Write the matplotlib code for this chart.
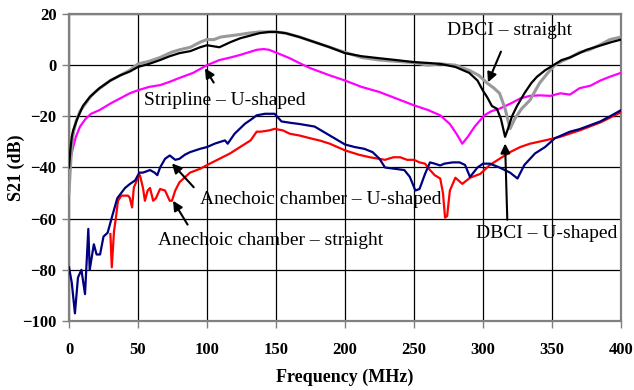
import matplotlib
matplotlib.use("Agg")
import matplotlib.pyplot as plt

# ---------------- data ----------------
f_dbci_straight = [0, 1, 2, 3, 5, 8, 12, 16, 20, 25, 30, 37, 44, 50, 58, 66, 74, 80, 88, 95, 100, 105, 110, 117,
                   124, 130, 138, 145, 150, 157, 167, 178, 189, 200, 212, 225, 237, 250, 260, 269, 280, 290, 297,
                   303, 308, 312, 316, 319.6, 323, 328, 334, 341, 347, 352, 357, 363, 370, 377, 385, 392, 400]
s_dbci_straight = [-50, -40, -32, -27, -22, -18, -15, -12, -10, -8, -6, -4, -2, 0.5, 1.5, 3, 5, 6, 7, 9, 10, 10, 11,
                   11.5, 12, 12.5, 13, 13, 13, 12.5, 11, 9, 7, 5, 3, 2, 1.5, 1, 0, 0.5, 0, -2, -4, -7, -9, -11, -17,
                   -24.8, -21, -17, -13.7, -7, -3, 0, 1.5, 3, 5, 6, 8, 10, 11]

f_dbci_u = [0, 1, 2, 3, 6, 10, 15, 22, 30, 37, 44, 50, 58, 66, 73, 80, 88, 95, 100, 109, 117, 124, 131, 138, 145,
            150, 157, 167, 178, 189, 200, 212, 225, 237, 250, 262, 269, 280, 290, 296, 300, 303, 306.5, 310, 313,
            316, 318, 321, 324.6, 330, 335, 339, 345, 351, 357, 363, 369, 375, 381, 387, 393, 400]
s_dbci_u = [-40, -33, -28, -25.5, -21, -16, -12.5, -9, -6, -4, -2.5, -0.7, 0.5, 2, 3.5, 4.7, 5.5, 7, 7.8, 7, 9,
            10.5, 11.5, 12.5, 13, 13, 12.5, 11, 9, 7, 4.7, 3.5, 2.7, 2, 1.2, 0.8, 0.5, -0.7, -3, -6, -10, -12.5,
            -16, -17, -21, -28, -25, -20, -16, -11, -7, -4.6, -2, 0, 2, 3, 4.5, 6, 7, 8, 9, 10]

f_stripline = [0, 1, 3, 5, 8, 12, 16, 22, 30, 37, 44, 50, 58, 66, 73, 80, 90, 100, 109, 117, 124, 130, 136, 141,
               145, 152, 160, 167, 175, 189, 200, 212, 225, 237, 250, 260, 269, 276, 281, 285, 289, 294, 301, 306,
               312, 320, 327, 334, 341, 349, 356, 363, 370, 378, 385, 392, 400]
s_stripline = [-42, -37, -32, -28, -24, -21, -19, -17.6, -15, -13, -11, -9.8, -8.5, -7.8, -6.5, -5, -3, 0, 2, 3,
               4, 5, 6, 6.3, 6, 4.5, 2.7, 0.8, -1.2, -4, -6, -8.5, -10.5, -13, -15.7, -17.5, -19.6, -23, -27,
               -30.7, -28, -24, -19.6, -18, -17, -15, -13, -12, -11.8, -12, -11, -11.5, -9, -8, -6, -4.5, -3]

f_anech_u = [0, 2, 4.3, 6.5, 9, 11.6, 14, 15, 18, 20, 22.5, 25, 28, 31, 35, 40.6, 44, 48, 51, 53.6, 58.7, 62, 64,
             66, 69.6, 73, 77, 80, 84, 87.7, 95, 100, 106, 113, 115, 120, 127.5, 132.6, 136, 142, 149, 154, 160,
             167, 178, 189, 200, 207, 214, 220, 225, 229, 236, 243, 247, 251, 254, 258, 261.6, 265, 269, 272, 278,
             283, 287, 290.6, 296, 300, 305, 312, 319.6, 325, 330, 337.7, 345, 352, 363, 370, 377.5, 385, 392, 400]
s_anech_u = [-79, -85, -97, -83, -80, -89.5, -64, -80, -70, -74, -74, -67, -65.5, -59.6, -52, -48, -46.5, -45, -42,
             -42, -41, -42, -43, -40, -36.6, -35.3, -37, -36.6, -35, -34, -32.7, -32, -30.6, -29.4, -30.7, -26.8,
             -22.9, -21, -19.6, -19, -19, -22, -22.5, -23, -24, -27.5, -31, -32, -32.7, -34, -36.6, -40, -40.5,
             -41, -43.7, -49, -48.4, -42.5, -38, -38.5, -39.2, -38.5, -38, -38, -39, -43.7, -40, -38.5, -38.5,
             -40, -42, -44.3, -39, -34.5, -32, -28.6, -26, -25, -23.5, -22, -20, -17.6]

f_anech_straight = [30, 31, 32.6, 34, 35.5, 38, 42.8, 44, 45.7, 47, 50, 51.4, 53.6, 55, 57, 58.7, 61, 63, 66, 69.6,
                    73, 74.6, 77, 80, 87.7, 95, 102, 109, 116.7, 124, 131.6, 136, 139, 145, 149, 155, 160, 167,
                    175, 182, 189, 200, 210, 218, 229, 235, 240, 245, 250, 254, 258, 261.6, 265, 269, 271, 272.5,
                    274, 276, 280, 285, 290.6, 298, 305, 312, 319.6, 327, 334, 345, 356, 370, 385, 400]
s_anech_straight = [-66, -79, -65, -59.6, -53, -51, -51, -51.8, -55.6, -47.8, -44, -43, -48, -53, -49, -48, -53,
                    -52, -48.4, -49, -53, -53, -49, -45.8, -42, -40.5, -38.5, -36.6, -34.5, -32, -29.4, -26, -26,
                    -25.5, -24.9, -25.5, -26.8, -27.5, -28.6, -29.5, -30.7, -33.3, -35, -36, -37, -36, -36, -37,
                    -37, -38, -38.5, -41, -43, -44.3, -50, -59.6, -59, -49, -44, -46.4, -44, -42.5, -39, -36.6,
                    -34, -32, -30.7, -29.4, -28, -25.5, -22.4, -18.4]

x_ticks = [0, 50, 100, 150, 200, 250, 300, 350, 400]
y_ticks = [-100, -80, -60, -40, -20, 0, 20]
x_label = "Frequency (MHz)"
y_label = "S21 (dB)"

# ---------------- plot ----------------
plt.rcParams['font.family'] = ['Liberation Serif', 'DejaVu Serif']

fig = plt.figure(figsize=(6.34, 3.90), dpi=100)
ax = fig.add_axes([69 / 634, 1 - 321 / 390, 552 / 634, 307 / 390])

ax.plot(f_anech_straight, s_anech_straight, color='#ff0000', lw=1.6, zorder=3)
ax.plot(f_anech_u, s_anech_u, color='#000080', lw=1.6, zorder=4)
ax.plot(f_stripline, s_stripline, color='#ff00ff', lw=1.6, zorder=3)
ax.plot(f_dbci_straight, s_dbci_straight, color='#999999', lw=2.2, zorder=4)
ax.plot(f_dbci_u, s_dbci_u, color='black', lw=1.6, zorder=5)

ax.set_xlim(0, 400)
ax.set_ylim(-100, 20)
ax.set_xticks(x_ticks)
ax.set_yticks(y_ticks)
ax.grid(True, color='black', lw=0.9)
ax.set_axisbelow(True)
for sp in ax.spines.values():
    sp.set_color('#808080')
    sp.set_linewidth(1.6)
ax.tick_params(direction='out', length=5, width=1, color='#808080', labelsize=12, pad=4)
for lab in ax.get_xticklabels() + ax.get_yticklabels():
    lab.set_fontweight('bold')
ax.tick_params(axis='x', pad=10)
ax.set_xlabel(x_label, fontsize=13, fontweight='bold')
ax.set_ylabel(y_label, fontsize=13, fontweight='bold')
ax.xaxis.set_label_coords(0.5, -(377 - 321) / 307, transform=ax.transAxes)
ax.xaxis.label.set_va('center')
ax.yaxis.set_label_coords(-(69 - 16) / 552, 0.5, transform=ax.transAxes)
ax.yaxis.label.set_va('center')

akw = dict(arrowstyle='-|>', color='black', lw=1.5, mutation_scale=14)
fs = 14
ax.annotate('DBCI – straight', xy=(303.6, -6.7), xytext=(319.6, 13.7), fontsize=fs,
            ha='center', va='center', arrowprops=dict(akw, shrinkA=8, shrinkB=0), zorder=10)
ax.annotate('Stripline – U-shaped', xy=(98.5, -1.2), xytext=(113, -14), fontsize=fs,
            ha='center', va='center', arrowprops=dict(akw, shrinkA=6, shrinkB=0), zorder=10)
ax.annotate('Anechoic chamber – U-shaped', xy=(74.6, -38.4), xytext=(182.6, -52.5), fontsize=fs,
            ha='center', va='center', arrowprops=dict(akw, shrinkA=4, shrinkB=0,
                                                     relpos=(0, 0.8)), zorder=10)
ax.annotate('Anechoic chamber – straight', xy=(75.4, -53), xytext=(146.4, -68.6), fontsize=fs,
            ha='center', va='center', arrowprops=dict(akw, shrinkA=4, shrinkB=0,
                                                     relpos=(0.15, 1)), zorder=10)
ax.annotate('DBCI – U-shaped', xy=(316, -30.6), xytext=(346.4, -65.9), fontsize=fs,
            ha='center', va='center', arrowprops=dict(akw, shrinkA=2, shrinkB=0,
                                                     relpos=(0.22, 1)), zorder=10)

fig.savefig('out.png', dpi=100)
